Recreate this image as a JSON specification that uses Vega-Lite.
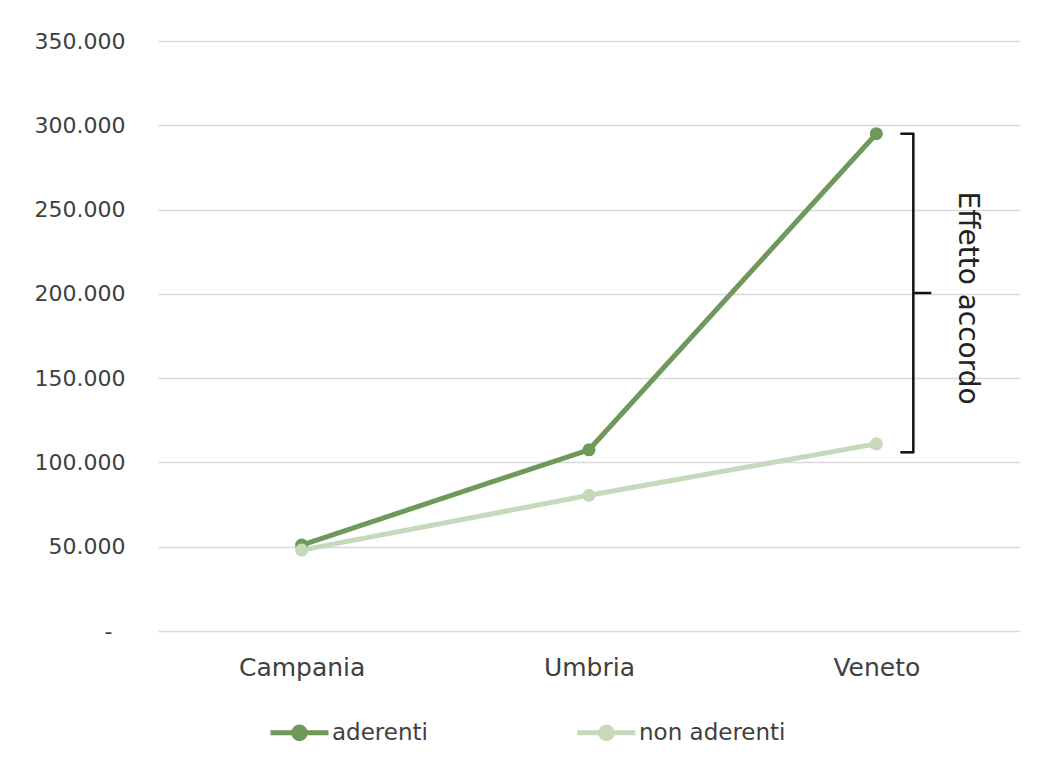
{
  "$schema": "https://vega.github.io/schema/vega-lite/v6.json",
  "width": 862,
  "height": 590,
  "autosize": {"type": "none"},
  "padding": {"left": 158, "top": 41, "right": 20, "bottom": 136},
  "background": "white",
  "config": {"font": "DejaVu Sans", "view": {"stroke": null}},
  "datasets": {
    "serie": [
      {"regione": "Campania", "gruppo": "aderenti", "valore": 51000},
      {"regione": "Umbria", "gruppo": "aderenti", "valore": 107500},
      {"regione": "Veneto", "gruppo": "aderenti", "valore": 295000},
      {"regione": "Campania", "gruppo": "non aderenti", "valore": 48000},
      {"regione": "Umbria", "gruppo": "non aderenti", "valore": 80500},
      {"regione": "Veneto", "gruppo": "non aderenti", "valore": 111000}
    ]
  },
  "layer": [
    {
      "data": {"name": "serie"},
      "mark": {"type": "line", "strokeWidth": 5, "point": {"filled": true, "size": 170, "opacity": 1}},
      "encoding": {
        "x": {
          "field": "regione", "type": "nominal",
          "sort": ["Campania", "Umbria", "Veneto"],
          "scale": {"type": "point", "padding": 0.5},
          "axis": {"title": null, "labelAngle": 0, "labelFontSize": 25, "labelColor": "#404040", "labelPadding": 24, "ticks": false, "domain": false, "grid": false}
        },
        "y": {
          "field": "valore", "type": "quantitative",
          "scale": {"domain": [0, 350000], "nice": false, "zero": true},
          "axis": {
            "title": null,
            "values": [0, 50000, 100000, 150000, 200000, 250000, 300000, 350000],
            "labelExpr": "datum.value === 0 ? '-' : replace(format(datum.value, ',.0f'), ',', '.')",
            "labelFontSize": 22, "labelColor": "#404040",
            "labelPadding": {"condition": {"test": "datum.value === 0", "value": 46}, "value": 33},
            "ticks": false, "domain": false,
            "gridColor": "#d9d9d9", "gridWidth": 1.5
          }
        },
        "color": {
          "field": "gruppo", "type": "nominal",
          "scale": {"domain": ["aderenti", "non aderenti"], "range": ["#6e995b", "#c5d9bb"]},
          "legend": {
            "title": null,
            "orient": "none",
            "legendX": 110,
            "legendY": 660,
            "direction": "horizontal",
            "symbolType": "M-1,0H1M0.2,0A0.2,0.2 0 1,1 -0.2,0A0.2,0.2 0 1,1 0.2,0Z",
            "symbolSize": 3364,
            "symbolStrokeWidth": 5,
            "labelFontSize": 23,
            "labelColor": "#404040",
            "labelOffset": 1,
            "columnPadding": 139,
            "symbolOpacity": 1,
            "encode": {
              "symbols": {
                "update": {
                  "fill": {"scale": "color", "field": "value"},
                  "stroke": {"scale": "color", "field": "value"},
                  "opacity": {"value": 1}
                }
              }
            }
          }
        }
      }
    },
    {
      "data": {"values": [{"regione": "Veneto", "da": 295000, "a": 106000}]},
      "mark": {"type": "rule", "xOffset": 37, "strokeWidth": 2.5, "color": "#111111"},
      "encoding": {
        "x": {"field": "regione", "type": "nominal"},
        "y": {"field": "da", "type": "quantitative"},
        "y2": {"field": "a"}
      }
    },
    {
      "data": {"values": [{"regione": "Veneto", "valore": 295000}, {"regione": "Veneto", "valore": 106000}]},
      "mark": {"type": "rule", "xOffset": 24, "x2Offset": 38, "strokeWidth": 2.5, "color": "#111111"},
      "encoding": {
        "x": {"field": "regione", "type": "nominal"},
        "x2": {"field": "regione"},
        "y": {"field": "valore", "type": "quantitative"}
      }
    },
    {
      "data": {"values": [{"regione": "Veneto", "valore": 200500}]},
      "mark": {"type": "rule", "xOffset": 37, "x2Offset": 55, "strokeWidth": 2.5, "color": "#111111"},
      "encoding": {
        "x": {"field": "regione", "type": "nominal"},
        "x2": {"field": "regione"},
        "y": {"field": "valore", "type": "quantitative"}
      }
    },
    {
      "data": {"values": [{"regione": "Veneto", "valore": 197500, "testo": "Effetto accordo"}]},
      "mark": {"type": "text", "angle": 90, "fontSize": 28, "xOffset": 91, "align": "center", "baseline": "middle", "color": "#222222"},
      "encoding": {
        "x": {"field": "regione", "type": "nominal"},
        "y": {"field": "valore", "type": "quantitative"},
        "text": {"field": "testo"}
      }
    }
  ]
}
